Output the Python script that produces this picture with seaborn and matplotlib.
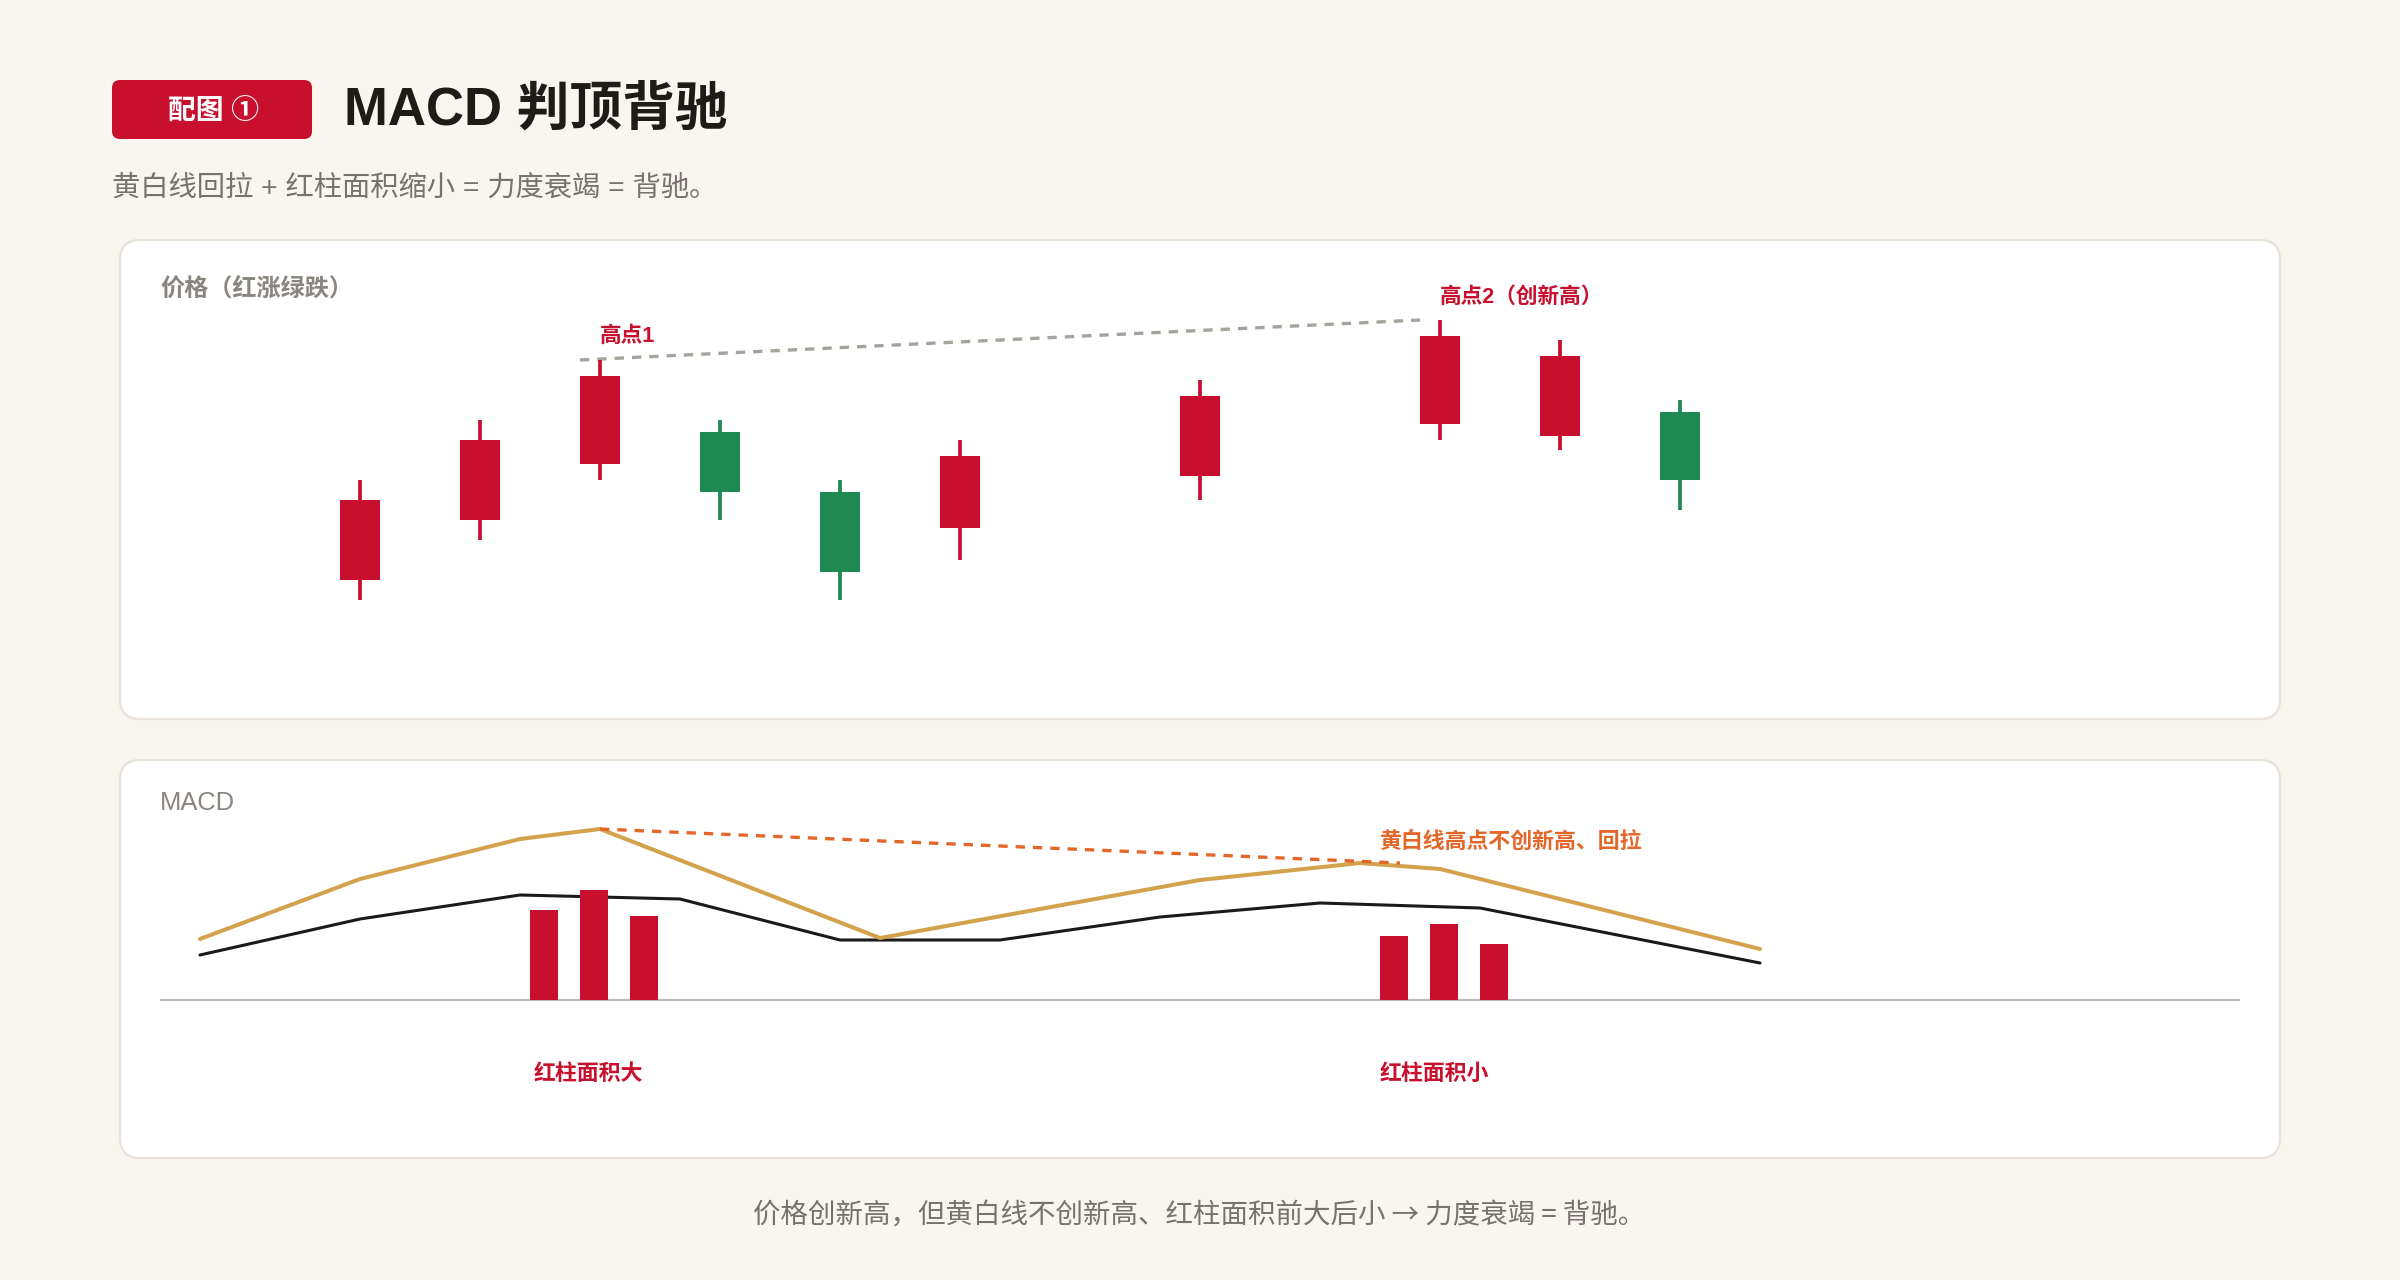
import numpy as np
import pandas as pd
import matplotlib
matplotlib.use("Agg")
import matplotlib.pyplot as plt
from matplotlib.patches import FancyBboxPatch
import seaborn as sns

# ---------------- data ----------------
candle_t = [9, 12, 15, 18, 21, 24, 30, 36, 39, 42]
candle_open = [11.0, 14.0, 16.8, 18.4, 15.4, 13.6, 16.2, 18.8, 18.2, 19.4]
candle_close = [15.0, 18.0, 21.2, 15.4, 11.4, 17.2, 20.2, 23.2, 22.2, 16.0]
candle_high = [16.0, 19.0, 22.0, 19.0, 16.0, 18.0, 21.0, 24.0, 23.0, 20.0]
candle_low = [10.0, 13.0, 16.0, 14.0, 10.0, 12.0, 15.0, 18.0, 17.5, 14.5]

yellow_t = [5, 9, 13, 15, 22, 30, 34, 36, 44]
yellow_v = [0.61, 1.21, 1.61, 1.71, 0.62, 1.20, 1.37, 1.31, 0.51]
black_t = [5, 9, 13, 17, 21, 25, 29, 33, 37, 44]
black_v = [0.45, 0.81, 1.05, 1.01, 0.60, 0.60, 0.83, 0.97, 0.92, 0.37]
hist_t = [13.6, 14.85, 16.1, 34.85, 36.1, 37.35]
hist_v = [0.90, 1.10, 0.84, 0.64, 0.76, 0.56]

badge_text = "配图 ①"
title_text = "MACD 判顶背驰"
subtitle_text = "黄白线回拉 + 红柱面积缩小 = 力度衰竭 = 背驰。"
price_label = "价格（红涨绿跌）"
macd_label = "MACD"
high1_label = "高点1"
high2_label = "高点2（创新高）"
div_label = "黄白线高点不创新高、回拉"
big_label = "红柱面积大"
small_label = "红柱面积小"
caption_text = "价格创新高，但黄白线不创新高、红柱面积前大后小 → 力度衰竭 = 背驰。"

# ---------------- style ----------------
RED = "#c8102e"
GREEN = "#1e8a52"
YELLOW = "#d2a24c"
BLACK = "#1c1a17"
ORANGE = "#e4672a"
GRAYDASH = "#a7a39c"
BG = "#f9f6ef"
BORDER = "#e8e4dc"

sns.set_theme(style="white")
plt.rcParams['font.family'] = ['Liberation Sans', 'Noto Sans CJK SC', 'DejaVu Sans']

W, H, DPI = 2400, 1280, 200
fig = plt.figure(figsize=(W / DPI, H / DPI), dpi=DPI)
fig.patch.set_facecolor(BG)


def rbox(x0, y0, x1, y1, r, fc, ec, lw):
    p = FancyBboxPatch((x0 / DPI, (H - y1) / DPI), (x1 - x0) / DPI, (y1 - y0) / DPI,
                       boxstyle=f"round,pad=0,rounding_size={r / DPI}",
                       transform=fig.dpi_scale_trans, fc=fc, ec=ec, lw=lw, zorder=-1)
    fig.add_artist(p)


def ftext(x, y, s, **kw):
    fig.text(x / W, 1 - y / H, s, **kw)


# header
rbox(112, 80, 312, 139, 8, RED, "none", 0)
ftext(213, 112, badge_text, ha="center", va="center", color="white",
      fontsize=10, fontweight="bold")
ftext(344, 110, title_text, ha="left", va="center", color="#1f1c18",
      fontsize=19, fontweight="bold")
ftext(112, 188, subtitle_text, ha="left", va="center", color="#77726b", fontsize=10.2)

# cards
rbox(120, 240, 2280, 719, 20, "white", BORDER, 0.8)
rbox(120, 760, 2280, 1158, 20, "white", BORDER, 0.8)

ftext(160, 289, price_label, ha="left", va="center", color="#8a857e",
      fontsize=8.7, fontweight="bold")
ftext(160, 803, macd_label, ha="left", va="center", color="#8a857e",
      fontsize=9.2)

# ---------------- price panel ----------------
X0, X1 = 120 / 40, 2280 / 40
ax1 = fig.add_axes([120 / W, 1 - 719 / H, 2160 / W, 479 / H], zorder=1)
ax1.patch.set_alpha(0)
ax1.set_axis_off()
ax1.set_xlim(X0, X1)
ax1.set_ylim(10 + (600 - 719) / 20, 10 + (600 - 240) / 20)

o = np.array(candle_open)
c = np.array(candle_close)
cols = [RED if cc >= oo else GREEN for oo, cc in zip(o, c)]
ax1.vlines(candle_t, candle_low, candle_high, colors=cols, lw=1.35, zorder=2)
ax1.bar(candle_t, np.abs(c - o), bottom=np.minimum(o, c), width=1.0,
        color=cols, linewidth=0, zorder=3)

i1, i2 = 2, 7
ax1.plot([candle_t[i1] - 0.5, candle_t[i2] - 0.5], [candle_high[i1], candle_high[i2]],
         color=GRAYDASH, lw=1.2, ls=(0, (2.8, 2.4)), zorder=1)
ax1.text(candle_t[i1], candle_high[i1] + 1.2, high1_label, ha="left", va="center",
         color=RED, fontsize=7.8, fontweight="bold")
ax1.text(candle_t[i2], candle_high[i2] + 1.15, high2_label, ha="left", va="center",
         color=RED, fontsize=7.8, fontweight="bold")

# ---------------- MACD panel ----------------
ax2 = fig.add_axes([120 / W, 1 - 1158 / H, 2160 / W, 398 / H], zorder=1)
ax2.patch.set_alpha(0)
ax2.set_axis_off()
ax2.set_xlim(X0, X1)
ax2.set_ylim((1000 - 1158) / 100, (1000 - 760) / 100)

ax2.hlines(0, 4, 56, color="#bdbbb7", lw=0.8, zorder=1)

df_black = pd.DataFrame({"t": black_t, "v": black_v})
df_yellow = pd.DataFrame({"t": yellow_t, "v": yellow_v})
sns.lineplot(data=df_black, x="t", y="v", ax=ax2, color=BLACK, lw=1.1,
             sort=False, estimator=None, zorder=2)
ax2.bar(hist_t, hist_v, width=0.7, color=RED, linewidth=0, zorder=3)
sns.lineplot(data=df_yellow, x="t", y="v", ax=ax2, color=YELLOW, lw=1.45,
             sort=False, estimator=None, zorder=4)
ax2.set_axis_off()

pk1, pk2 = 3, 6
ax2.plot([yellow_t[pk1], yellow_t[pk2] + 1], [yellow_v[pk1], yellow_v[pk2]],
         color=ORANGE, lw=1.2, ls=(0, (2.8, 2.4)), zorder=5)
ax2.text(yellow_t[pk2] + 0.5, 1.58, div_label, ha="left", va="center",
         color=ORANGE, fontsize=7.9, fontweight="bold")
ax2.text(hist_t[0] - 0.25, -0.74, big_label, ha="left", va="center",
         color=RED, fontsize=7.9, fontweight="bold")
ax2.text(hist_t[3] - 0.35, -0.74, small_label, ha="left", va="center",
         color=RED, fontsize=7.9, fontweight="bold")

# caption (CJK font first so the arrow is full size)
ftext(1199, 1215, caption_text, ha="center", va="center", color="#77726b", fontsize=9.9,
      family=['Noto Sans CJK SC', 'DejaVu Sans'])

fig.savefig("out.png", dpi=DPI, facecolor=BG)
